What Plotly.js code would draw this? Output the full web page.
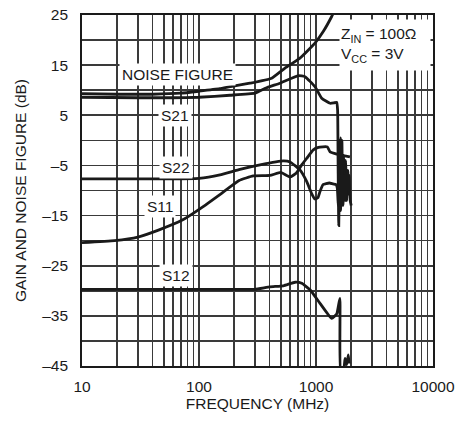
<!DOCTYPE html>
<html>
<head>
<meta charset="utf-8">
<script src="https://cdn.plot.ly/plotly-3.0.1.min.js"></script>
<style>
html,body{margin:0;padding:0;background:#fff;}
#chart{width:461px;height:425px;}
</style>
</head>
<body>
<div id="chart"></div>
<script>
// ---- data (frequency in MHz, value in dB) ----
const nfFreq = [10, 20, 40, 70, 100, 150, 184, 273, 418, 543, 729, 980, 1153, 1362, 1420];
const nfVal  = [9.3, 9.2, 9.2, 9.4, 9.8, 10.3, 10.7, 11.4, 12.4, 14.4, 16.4, 19.4, 21.7, 24.7, 25.6];

const s21Freq = [10, 30, 60, 100, 184, 300, 379, 492, 706, 805, 980, 1119, 1320, 1430, 1504, 1530, 1545, 1565, 1590, 1615, 1640, 1665, 1690, 1720, 1750, 1790, 1830, 1870, 1900];
const s21Val  = [8.6, 8.5, 8.5, 8.6, 9.0, 9.4, 10.5, 11.4, 12.9, 12.7, 10.7, 8.4, 7.4, 7.5, 7.6, 6.0, -5, -17, -6, 0.5, -10, 0, -12, -3, -11, -4, -12, -6, -11];

const s22Freq = [10, 50, 100, 151, 224, 332, 526, 600, 729, 832, 918, 980, 1040, 1082, 1150, 1300, 1400, 1480, 1520, 1550, 1580, 1620, 1660, 1700, 1740, 1780, 1830, 1880, 1920, 1960, 2000];
const s22Val  = [-7.7, -7.7, -7.6, -6.9, -5.8, -4.9, -4.1, -4.3, -5.9, -8.2, -10.6, -11.7, -11.4, -10.2, -8.8, -8.5, -8.7, -8.8, -9.5, -13, -8, -14, -5, -13, -7, -12, -6, -10, -7, -12, -13];

const s11Freq = [10, 19, 30, 45, 72, 104, 155, 220, 291, 404, 500, 600, 680, 760, 832, 948, 1048, 1250, 1320, 1600, 1950];
const s11Val  = [-20.4, -20.0, -19.3, -17.9, -15.9, -13.5, -10.6, -8.0, -7.1, -7.0, -6.4, -7.3, -6.5, -4.8, -3.6, -1.9, -1.4, -1.3, -2.3, -2.9, -3.3];

const s12Freq = [10, 200, 300, 404, 526, 662, 755, 889, 1082, 1362, 1504, 1600, 1625, 1720, 1771, 1830, 1890, 1920];
const s12Val  = [-29.7, -29.7, -29.7, -29.2, -29.0, -28.3, -28.5, -29.8, -32.5, -35.5, -34.6, -31.5, -46, -46, -43.5, -44.7, -42.8, -44.5];

const xTickVals = [10,20,30,40,50,60,70,80,90,100,200,300,400,500,600,700,800,900,1000,2000,3000,4000,5000,6000,7000,8000,9000,10000];
const xTickText = ['10','','','','','','','','','100','','','','','','','','','1000','','','','','','','','','10000'];
const yTickVals = [-45,-40,-35,-30,-25,-20,-15,-10,-5,0,5,10,15,20,25];
const yTickText = ['–45','','–35','','–25','','–15','','–5','','5','','15','','25'];

const seriesLabels = ['NOISE FIGURE', 'S21', 'S22', 'S11', 'S12'];
const labelFreq = [65, 62, 63, 46.4, 63.5];
const labelDb   = [13.1, 4.9, -5.4, -13.2, -26.9];

const FONT = '"Liberation Sans", Arial, Helvetica, sans-serif';
const FS = 15.5;
const INK = '#1a1a1a';

function line(x, y, name) {
  return {x: x, y: y, name: name, type: 'scatter', mode: 'lines',
          line: {color: INK, width: 2.8, shape: 'spline', smoothing: 0.4},
          hoverinfo: 'skip', showlegend: false};
}

const data = [
  line(nfFreq, nfVal, seriesLabels[0]),
  line(s21Freq, s21Val, seriesLabels[1]),
  line(s22Freq, s22Val, seriesLabels[2]),
  line(s11Freq, s11Val, seriesLabels[3]),
  line(s12Freq, s12Val, seriesLabels[4])
];

const annotations = seriesLabels.map((t, i) => ({
  text: t, x: Math.log10(labelFreq[i]), y: labelDb[i], xref: 'x', yref: 'y', showarrow: false,
  bgcolor: '#ffffff', borderpad: 2, font: {family: FONT, size: FS, color: INK}
}));
annotations.push({
  text: 'Z<sub>IN</sub> = 100Ω<br>V<sub>CC</sub> = 3V', xref: 'paper', yref: 'paper',
  x: 0.995, y: 0.99, xanchor: 'right', yanchor: 'top', align: 'left', valign: 'middle',
  width: 88, height: 48, showarrow: false,
  bgcolor: '#ffffff', borderpad: 1, font: {family: FONT, size: FS, color: INK}
});

const axisCommon = {
  tickmode: 'array', showgrid: true, gridcolor: '#3a3a3a', gridwidth: 1.6,
  showline: true, mirror: true, linecolor: INK, linewidth: 1.8,
  ticks: '', zeroline: false,
  tickfont: {family: FONT, size: FS, color: INK}
};

const layout = {
  width: 461, height: 425,
  margin: {l: 82, r: 28, t: 15, b: 59},
  paper_bgcolor: '#fff', plot_bgcolor: '#fff',
  font: {family: FONT, size: FS, color: INK},
  xaxis: Object.assign({}, axisCommon, {
    type: 'log', range: [1, 4], tickvals: xTickVals, ticktext: xTickText,
    ticklabelstandoff: 6,
    title: {text: 'FREQUENCY (MHz)', font: {family: FONT, size: FS, color: INK}, standoff: 2}
  }),
  yaxis: Object.assign({}, axisCommon, {
    range: [-45, 25], tickvals: yTickVals, ticktext: yTickText,
    ticklabelstandoff: 9,
    title: {text: 'GAIN AND NOISE FIGURE (dB)', font: {family: FONT, size: FS, color: INK}, standoff: 12}
  }),
  annotations: annotations
};

Plotly.newPlot('chart', data, layout, {staticPlot: true, displayModeBar: false});
</script>
</body>
</html>
